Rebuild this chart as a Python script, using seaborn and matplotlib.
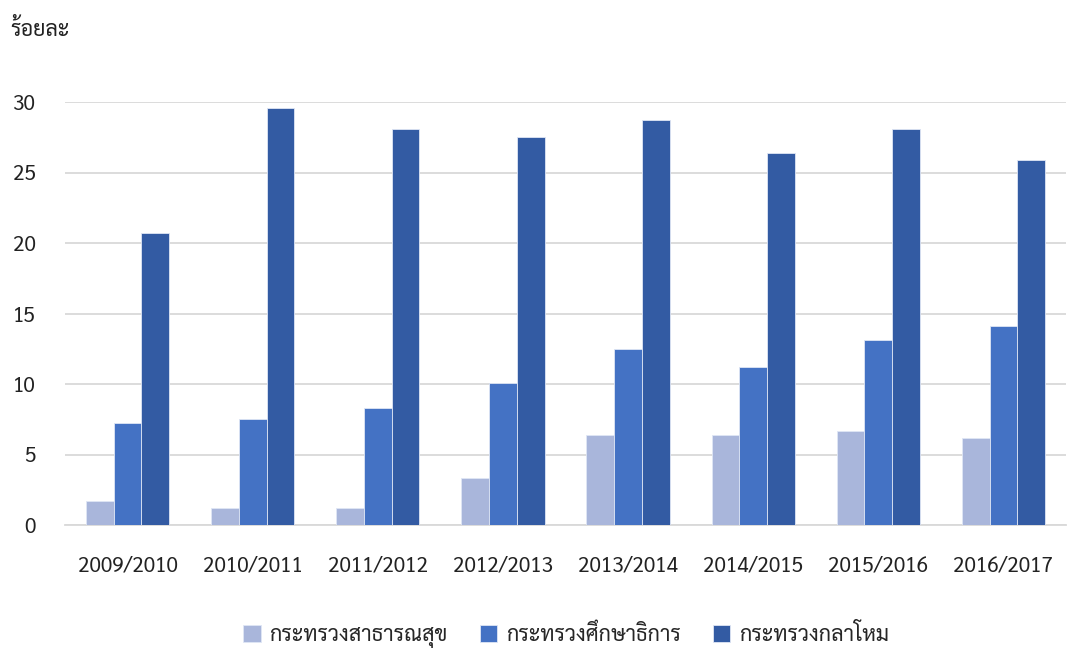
import matplotlib
matplotlib.use("Agg")
import matplotlib.pyplot as plt
import seaborn as sns
import pandas as pd

years = ["2009/2010", "2010/2011", "2011/2012", "2012/2013", "2013/2014", "2014/2015", "2015/2016", "2016/2017"]
series_names = ["กระทรวงสาธารณสุข", "กระทรวงศึกษาธิการ", "กระทรวงกลาโหม"]
health = [1.7, 1.2, 1.2, 3.3, 6.4, 6.4, 6.7, 6.2]
education = [7.2, 7.5, 8.3, 10.1, 12.5, 11.2, 13.1, 14.1]
defence = [20.7, 29.6, 28.1, 27.5, 28.7, 26.4, 28.1, 25.9]
colors = ["#A9B6DB", "#4472C4", "#335BA3"]

rows = []
for vals, name in zip([health, education, defence], series_names):
    for y, v in zip(years, vals):
        rows.append({"year": y, "series": name, "value": v})
df = pd.DataFrame(rows)

sns.set_theme(style="white")
plt.rcParams['font.family'] = ['Sarabun', 'DejaVu Sans']

fig = plt.figure(figsize=(10.68, 6.48), dpi=100)
ax = fig.add_axes([65/1068, 1-525/648, (1066-65)/1068, (525-102)/648])
sns.barplot(data=df, x="year", y="value", hue="series", palette=colors, saturation=1,
            width=0.665, edgecolor="#dfe6f5", linewidth=0.6, ax=ax, legend=True, zorder=3)
ax.set_ylim(0, 30)
ax.set_xlim(-0.5, 7.5)
ax.set_yticks([0, 5, 10, 15, 20, 25, 30])
ax.yaxis.grid(True, color="#d9d9d9", linewidth=1.3, zorder=0)
ax.set_axisbelow(True)
for s in ["top", "right", "left"]:
    ax.spines[s].set_visible(False)
ax.spines["bottom"].set_color("#d9d9d9")
ax.spines["bottom"].set_linewidth(1.3)
ax.tick_params(axis="y", length=0, pad=21, labelsize=15, colors="#222222")
ax.tick_params(axis="x", length=0, pad=22, labelsize=15, colors="#222222")
for lab in ax.get_yticklabels():
    lab.set_horizontalalignment("right")
ax.set_xlabel("")
ax.set_ylabel("")
fig.text(10/1068, 1-30/648, "ร้อยละ", fontsize=15.5, color="#222222", va="center", ha="left")
handles, labels = ax.get_legend_handles_labels()
ax.legend_.remove()
fig.legend(handles, labels, loc="center", bbox_to_anchor=(0.53, 1-636/648), ncol=3,
           frameon=False, fontsize=15.5, handlelength=0.8, handleheight=0.8,
           columnspacing=1.5, handletextpad=0.4)
fig.savefig("out.png", dpi=100)
